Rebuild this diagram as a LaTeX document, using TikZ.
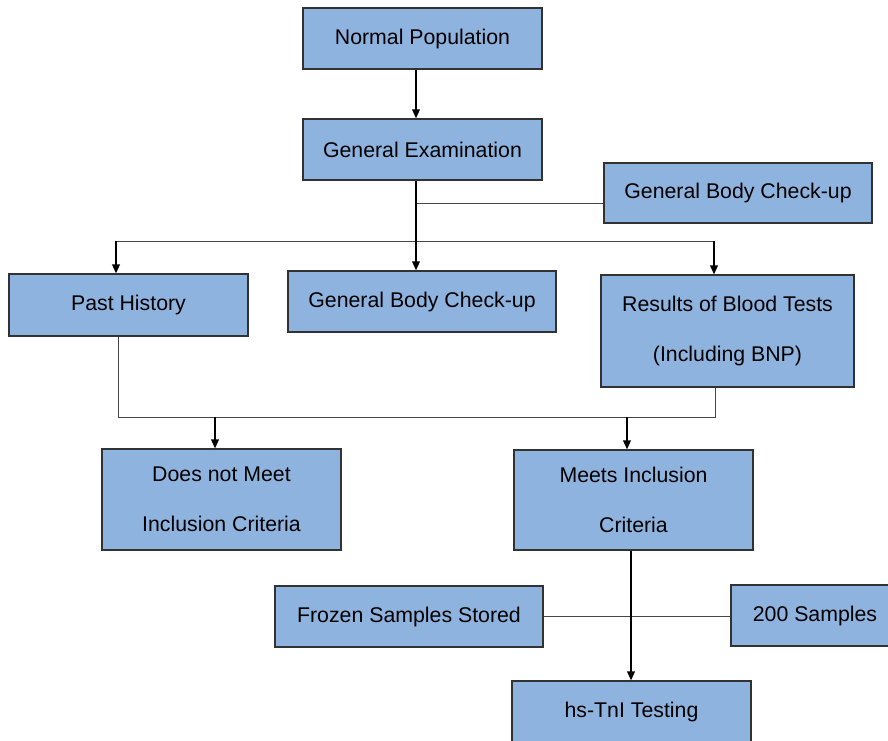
\documentclass[tikz,border=0pt]{standalone}
\usepackage{fontspec}
\setmainfont{Liberation Sans}
\usetikzlibrary{arrows.meta}
\definecolor{boxblue}{RGB}{142,179,223}
\definecolor{boxline}{RGB}{50,50,50}
\definecolor{wire}{RGB}{70,70,70}
\begin{document}
\begin{tikzpicture}[x=1pt,y=-1pt,
	box/.style = {rectangle,draw=boxline,line width=1.1pt,fill=boxblue,inner sep=0pt,
		minimum width=239pt,minimum height=61pt,align=center,
		font=\fontsize{21.3}{50}\selectfont},
	wide box/.style = {box,minimum width=268pt},
	link/.style = {draw=wire,line width=1pt},
	flow/.style = {draw=black,line width=1.8pt,-{Triangle[length=9pt,width=7.5pt]}}]

	\clip (0,0) rectangle (888,740);
	\fill[white] (0,0) rectangle (888,740);

	\node[box] (np) at (422.5,38.5) {Normal Population};
	\node[box] (ge) at (422.5,149.5) {General Examination};
	\node[wide box,minimum height=60pt] (gbr) at (738,193) {General Body Check-up};
	\node[box,minimum height=62pt] (ph) at (128.5,305) {Past History};
	\node[wide box] (gbm) at (422,301.5) {General Body Check-up};
	\node[box,minimum width=253pt,minimum height=112pt] (res) at (727.5,331)
		{Results of Blood Tests\\(Including BNP)};
	\node[box,minimum height=101pt] (dnm) at (221.5,499.5) {Does not Meet\\Inclusion Criteria};
	\node[box,minimum height=100pt] (mic) at (633.5,500) {Meets Inclusion\\Criteria};
	\node[wide box] (fss) at (409,616.5) {Frozen Samples Stored};
	\node[box,minimum width=168pt] (s200) at (815,615.5) {200 Samples};
	\node[box,minimum height=62pt] (hs) at (631.5,712) {hs-TnI Testing};

	% junction points
	\coordinate (spine) at (416,203);
	\coordinate (tl) at (116,241);
	\coordinate (tr) at (714,241);
	\coordinate (bl) at (118,417);
	\coordinate (br) at (715,417);
	\coordinate (dl) at (215,417);
	\coordinate (dr) at (627,417);
	\coordinate (drop) at (631,600);

	\draw[link] (spine) -- (gbr.west |- spine);
	\draw[link] (tl) -- (tr);
	\draw[link] (ph.south -| bl) -- (bl) -- (br) -- (res.south -| br);
	\draw[link] (fss.east) -- (s200.west |- fss.east);

	\path[every edge/.style={flow}]
	(np.south -| spine) edge (ge.north -| spine)
	(ge.south -| spine) edge (gbm.north -| spine)
	(tl) edge (ph.north -| tl)
	(tr) edge (res.north -| tr)
	(dl) edge (dnm.north -| dl)
	(dr) edge (mic.north -| dr)
	(mic.south -| drop) edge (hs.north -| drop);
\end{tikzpicture}
\end{document}
